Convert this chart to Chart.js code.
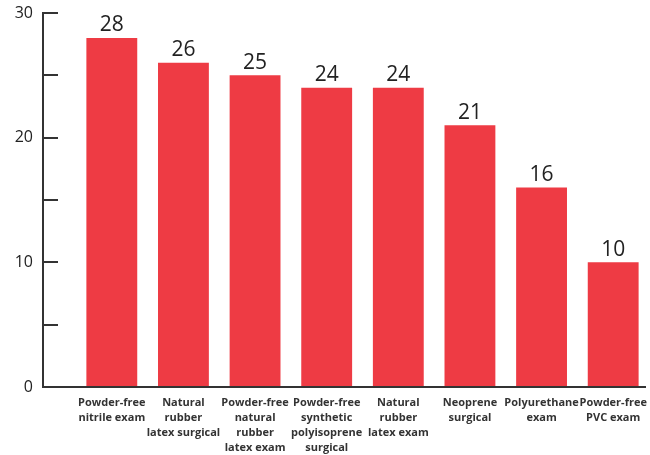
<!DOCTYPE html>
<html>
<head>
<meta charset="utf-8">
<script src="https://cdn.jsdelivr.net/npm/chart.js@4/dist/chart.umd.min.js"></script>
<style>
  html, body { margin: 0; padding: 0; background: #ffffff; }
  #wrap { width: 650px; height: 455px; position: relative; }
</style>
</head>
<body>
<div id="wrap"><canvas id="chart" width="650" height="455"></canvas></div>
<script>
// Glove types (multi-line category labels)
const categories = [
  ['Powder-free', 'nitrile exam'],
  ['Natural', 'rubber', 'latex surgical'],
  ['Powder-free', 'natural', 'rubber', 'latex exam'],
  ['Powder-free', 'synthetic', 'polyisoprene', 'surgical'],
  ['Natural', 'rubber', 'latex exam'],
  ['Neoprene', 'surgical'],
  ['Polyurethane', 'exam'],
  ['Powder-free', 'PVC exam']
];
const values = [28, 26, 25, 24, 24, 21, 16, 10];
const yTickLabels = [0, 10, 20, 30];
const yMinorTicks = [5, 15, 25];

const BAR_COLOR = '#EE3B44';
const AXIS_COLOR = '#333333';
const FONT = '"Open Sans", "Noto Sans", sans-serif';
const AXIS_GAP = 33;      // distance between the drawn y axis line and the first category slot
const TICK_LEN = 15;
const LABEL_GAP = 10;

// Draws the L-shaped axes with inward tick marks, the y tick labels,
// and the value above each bar
const axesAndLabels = {
  id: 'axesAndLabels',
  afterDatasetsDraw(chart) {
    const ctx = chart.ctx;
    const area = chart.chartArea;
    const y = chart.scales.y;
    const axisX = area.left - AXIS_GAP;
    const y0 = y.getPixelForValue(0);
    const yTop = y.getPixelForValue(30);

    ctx.save();
    ctx.strokeStyle = AXIS_COLOR;
    ctx.lineWidth = 2;
    ctx.lineCap = 'butt';
    ctx.beginPath();
    ctx.moveTo(axisX, yTop - 1);
    ctx.lineTo(axisX, y0 + 1);
    ctx.moveTo(axisX - 1, y0);
    ctx.lineTo(area.right - 3, y0);
    [...yTickLabels, ...yMinorTicks].forEach(v => {
      if (v === 0) return;
      const py = Math.round(y.getPixelForValue(v));
      ctx.moveTo(axisX, py);
      ctx.lineTo(axisX + TICK_LEN, py);
    });
    ctx.stroke();

    // y tick labels
    ctx.fillStyle = '#222222';
    ctx.font = '16px ' + FONT;
    ctx.textAlign = 'right';
    ctx.textBaseline = 'middle';
    yTickLabels.forEach(v => {
      ctx.fillText(String(v), axisX - LABEL_GAP, y.getPixelForValue(v));
    });

    // value labels
    ctx.font = '21px ' + FONT;
    ctx.textAlign = 'center';
    ctx.textBaseline = 'bottom';
    const meta = chart.getDatasetMeta(0);
    meta.data.forEach((bar, i) => {
      ctx.fillText(String(values[i]), bar.x, bar.y - 2);
    });
    ctx.restore();
  }
};

new Chart(document.getElementById('chart'), {
  type: 'bar',
  data: {
    labels: categories,
    datasets: [{
      data: values,
      backgroundColor: BAR_COLOR,
      borderWidth: 0,
      barPercentage: 0.71,
      categoryPercentage: 1.0
    }]
  },
  options: {
    responsive: false,
    animation: false,
    devicePixelRatio: 1,
    layout: { padding: { top: 13, right: 1, left: 0, bottom: 0 } },
    plugins: {
      legend: { display: false },
      tooltip: { enabled: false }
    },
    scales: {
      x: {
        grid: { display: false, drawTicks: false },
        border: { display: false },
        ticks: {
          color: '#333333',
          font: { family: FONT, size: 11, weight: 'bold', lineHeight: 1.36 },
          padding: 8,
          maxRotation: 0,
          autoSkip: false
        },
        afterFit(scale) {
          scale.height = 68;
          // let the last label run to the canvas edge instead of shrinking the plot
          scale.paddingLeft = 0;
          scale.paddingRight = 0;
        }
      },
      y: {
        min: 0,
        max: 30,
        grid: { display: false, drawTicks: false },
        border: { display: false },
        ticks: { display: false },
        afterFit(scale) { scale.width = 76; }
      }
    }
  },
  plugins: [axesAndLabels]
});
</script>
</body>
</html>
